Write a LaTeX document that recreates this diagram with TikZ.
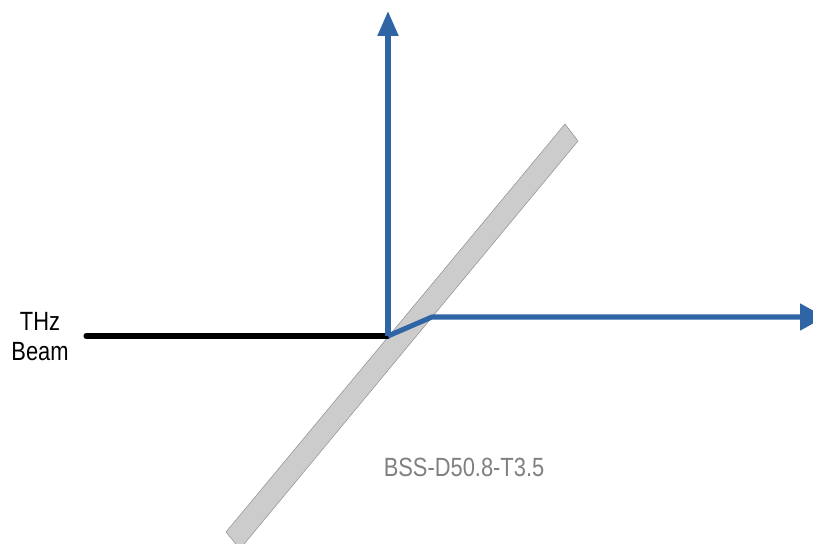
\documentclass[tikz,border=0pt]{standalone}
\usepackage{xcolor}
\usepackage{fontspec}
\setmainfont[FakeStretch=0.83]{Liberation Sans}
\usetikzlibrary{arrows.meta, positioning}
\colorlet{platefill}{black!20}
\definecolor{rayblue}{HTML}{2F65A5}
\colorlet{labelgray}{black!50}
\tikzset{
  beamline/.style={line width=4.3pt, line cap=round},
  rayline/.style={line width=4.3pt, draw=rayblue, line join=round},
  beamlabel/.style={font=\fontsize{22.5}{25.5}\selectfont, align=center, inner sep=0pt}
}

\begin{document}
\begin{tikzpicture}
    \useasboundingbox (0, 0) rectangle (24.39, 16.32);
    \clip (0, 0) rectangle (24.39, 16.32);

    % Tilted plate
    \draw[fill=platefill, draw=black!45, line width=0.4pt] (16.95, 12.60) -- (17.34, 12.09) -- (7.20, -0.15) -- (6.78, 0.36) -- cycle;
    \node[beamlabel, text=labelgray, anchor=center] (platelabel) at (13.92, 2.31) {BSS-D50.8-T3.5};

    % Points on the beam
    \node[beamlabel, anchor=center] (beamlabel) at (1.20, 6.21) {THz\\Beam};
    \coordinate (beamstart) at (2.58, 6.24);
    \coordinate (split) at (11.64, 6.24);
    \coordinate (kink) at (12.96, 6.81);
    \coordinate (uptip) at (11.64, 15.99);
    \coordinate (righttip) at (24.75, 6.81);

    % Incoming beam
    \draw[beamline] (beamstart) -- (split);

    % Reflected and transmitted rays
    \draw[rayline, -{Triangle[length=0.75cm, width=0.6cm]}] (split) -- (uptip);
    \draw[rayline, -{Triangle[length=0.75cm, width=0.78cm]}] (split) -- (kink) -- (righttip);
\end{tikzpicture}
\end{document}
